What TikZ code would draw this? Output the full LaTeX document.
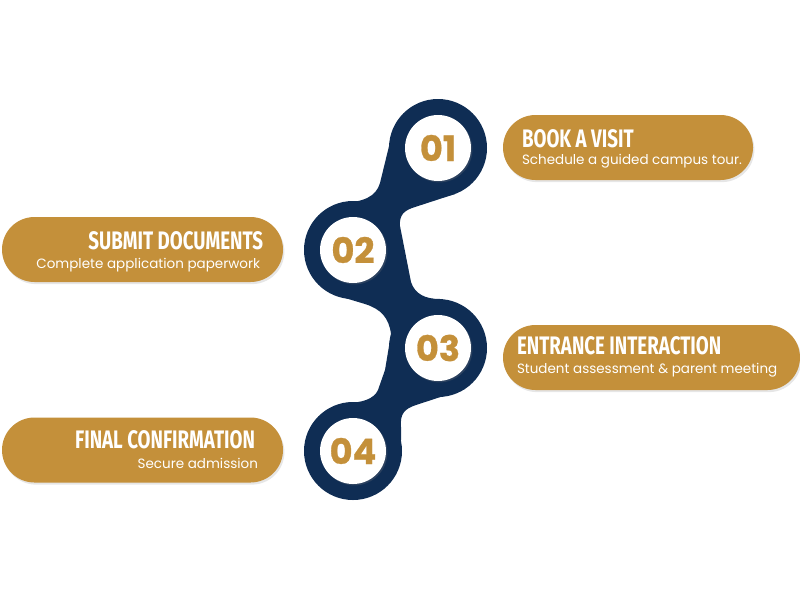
\documentclass[tikz,border=0pt]{standalone}
\usepackage{fontspec}
\setmainfont{Poppins}
\newfontfamily\headfont[FakeStretch=0.74]{Fira Sans}
\newfontfamily\numfont[FakeBold=0.8]{Poppins}
\usetikzlibrary{positioning,shapes.misc,shadows}
\definecolor{navy}{RGB}{15,45,84}
\definecolor{gold}{RGB}{196,144,58}
\def\px{0.025cm}
\tikzset{
  pill/.style={rounded rectangle, fill=gold, minimum height=65*\px, inner sep=0pt,
    drop shadow={shadow xshift=1pt, shadow yshift=-1.5pt, opacity=0.2}},
  title/.style={text=white, inner sep=0pt, font=\headfont\bfseries\fontsize{18}{20}\selectfont},
  sub/.style={text=white, inner sep=0pt, font=\fontsize{9.6}{11}\selectfont},
  num/.style={circle, fill=white, minimum size=66*\px, inner sep=0pt, text=gold,
    font=\numfont\bfseries\fontsize{25}{25}\selectfont,
    drop shadow={shadow xshift=1pt, shadow yshift=-1pt, opacity=0.25}}
}

\begin{document}
\begin{tikzpicture}[x=\px, y=-\px]
% Definisci le variabili
\def\R{49}  % raggio dei cerchi blu

\useasboundingbox (0,0) rectangle (800,600);

% Catena blu: raccordi tra i cerchi
\fill[navy] (438,148) -- (391,138) -- (380,183) .. controls (376,197) and (363,202) .. (342,203)
  -- (353,250) -- (400,230) .. controls (399,218) and (401,212) .. (412,208) -- (455,194) -- cycle;
\fill[navy] (353,250) -- (400,226) -- (411,282) .. controls (415,294) and (425,299) .. (440,299)
  -- (438,348) -- (391,334) .. controls (389,318) and (381,309) .. (365,304) -- (335,295) -- cycle;
\fill[navy] (438,348) -- (391,334) -- (385,370) -- (378,390) .. controls (374,399) and (362,403) .. (345,403)
  -- (353,451) -- (401,440) -- (401,427) .. controls (400,414) and (404,409) .. (416,405) -- (465,389) -- cycle;

% Cerchi blu e cerchi bianchi con i numeri
\foreach \i/\x/\y in {1/438/148, 2/353/250, 3/438/348, 4/353/451} {
    \fill[navy] (\x,\y) circle (\R);
    \node[num] (c\i) at (\x,\y) {0\i};
}

% Etichette
\node[pill, minimum width=250*\px] (p1) at (628,147.5) {};
\node[title, anchor=base west, xshift=19*\px] (t1) at (p1.west) {BOOK A VISIT};
\node[sub, anchor=base west, xshift=19*\px, yshift=-17*\px] (s1) at (p1.west) {Schedule a guided campus tour.};

\node[pill, minimum width=281*\px] (p2) at (142.5,249.5) {};
\node[title, anchor=base east, xshift=-20*\px] (t2) at (p2.east) {SUBMIT DOCUMENTS};
\node[sub, anchor=base east, xshift=-23*\px, yshift=-19*\px] (s2) at (p2.east) {Complete application paperwork};

\node[pill, minimum width=297*\px] (p3) at (651.5,357.5) {};
\node[title, anchor=base west, xshift=14*\px, yshift=3*\px] (t3) at (p3.west) {ENTRANCE INTERACTION};
\node[sub, anchor=base west, xshift=14*\px, yshift=-16*\px] (s3) at (p3.west) {Student assessment \& parent meeting};

\node[pill, minimum width=281*\px] (p4) at (142.5,450) {};
\node[title, anchor=base east, xshift=-28*\px, yshift=2*\px] (t4) at (p4.east) {FINAL CONFIRMATION};
\node[sub, anchor=base east, xshift=-25*\px, yshift=-18*\px] (s4) at (p4.east) {Secure admission};

\end{tikzpicture}
\end{document}
